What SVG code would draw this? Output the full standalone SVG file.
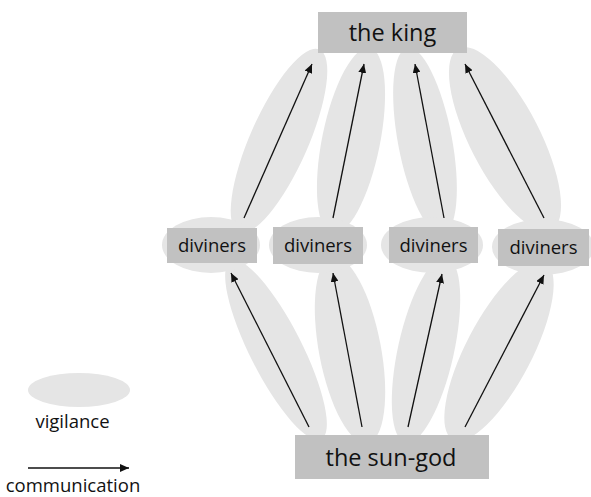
<svg xmlns="http://www.w3.org/2000/svg" width="591" height="497" viewBox="0 0 591 497">
<style>
.vig{fill:#e5e5e5}
.box{fill:#c1c1c1}
.lbl{font-family:"Open Sans","Liberation Sans",sans-serif;fill:#111;text-anchor:middle}
.big{font-size:23.5px}
.mid{font-size:18.5px}
.arr{stroke:#111;stroke-width:1.3;fill:none;marker-end:url(#ah)}
</style>
<defs>
<marker id="ah" markerUnits="userSpaceOnUse" markerWidth="10" markerHeight="8" refX="9" refY="4" orient="auto">
<path d="M0,0 L9,4 L0,8 Z" fill="#111"/>
</marker>
</defs>
<g id="vigilance-areas">
<ellipse class="vig" cx="279" cy="141" rx="100" ry="29" transform="rotate(-66.2 279 141)"/>
<ellipse class="vig" cx="351" cy="141" rx="95" ry="29" transform="rotate(-78.6 351 141)"/>
<ellipse class="vig" cx="425" cy="141" rx="95" ry="27" transform="rotate(79.3 425 141)"/>
<ellipse class="vig" cx="505" cy="139" rx="102" ry="35" transform="rotate(62.8 505 139)"/>
<ellipse class="vig" cx="276" cy="350" rx="100" ry="26" transform="rotate(63.1 276 350)"/>
<ellipse class="vig" cx="350" cy="350" rx="95" ry="31" transform="rotate(79.3 350 350)"/>
<ellipse class="vig" cx="426" cy="350" rx="95" ry="28" transform="rotate(-77.5 426 350)"/>
<ellipse class="vig" cx="499" cy="351" rx="100" ry="33" transform="rotate(-62.5 499 351)"/>
</g>
<g id="king">
<rect class="box" x="318" y="12" width="149" height="41"/>
<text class="lbl big" x="392.5" y="41">the king</text>
</g>
<g id="diviners1">
<ellipse class="vig" cx="211" cy="245" rx="49" ry="28"/>
<rect class="box" x="167" y="228" width="90" height="35"/>
<text class="lbl mid" x="212" y="252">diviners</text>
</g>
<g id="diviners2">
<ellipse class="vig" cx="318" cy="245" rx="49" ry="28"/>
<rect class="box" x="273" y="227" width="90" height="37"/>
<text class="lbl mid" x="318" y="252">diviners</text>
</g>
<g id="diviners3">
<ellipse class="vig" cx="432" cy="245" rx="51" ry="28"/>
<rect class="box" x="389" y="227" width="89" height="36"/>
<text class="lbl mid" x="433.5" y="252">diviners</text>
</g>
<g id="diviners4">
<ellipse class="vig" cx="543" cy="247" rx="51" ry="28"/>
<rect class="box" x="498" y="229" width="91" height="37"/>
<text class="lbl mid" x="543.5" y="254">diviners</text>
</g>
<g id="sun-god">
<rect class="box" x="295" y="435" width="194" height="44"/>
<text class="lbl big" x="391" y="466">the sun-god</text>
</g>
<g id="connectors">
<line class="arr" x1="244" y1="218" x2="312" y2="64"/>
<line class="arr" x1="333" y1="218" x2="364" y2="64"/>
<line class="arr" x1="444" y1="218" x2="415" y2="64"/>
<line class="arr" x1="544" y1="218" x2="465" y2="64"/>
<line class="arr" x1="309" y1="427" x2="231" y2="273"/>
<line class="arr" x1="362" y1="427" x2="333" y2="273"/>
<line class="arr" x1="408" y1="427" x2="442" y2="274"/>
<line class="arr" x1="465" y1="427" x2="544" y2="275"/>
</g>
<g id="legend">
<ellipse class="vig" cx="79" cy="390" rx="51" ry="17"/>
<text class="lbl mid" x="72.5" y="428">vigilance</text>
<line class="arr" x1="28" y1="468" x2="129" y2="468"/>
<text class="lbl mid" x="73" y="492">communication</text>
</g>
</svg>
